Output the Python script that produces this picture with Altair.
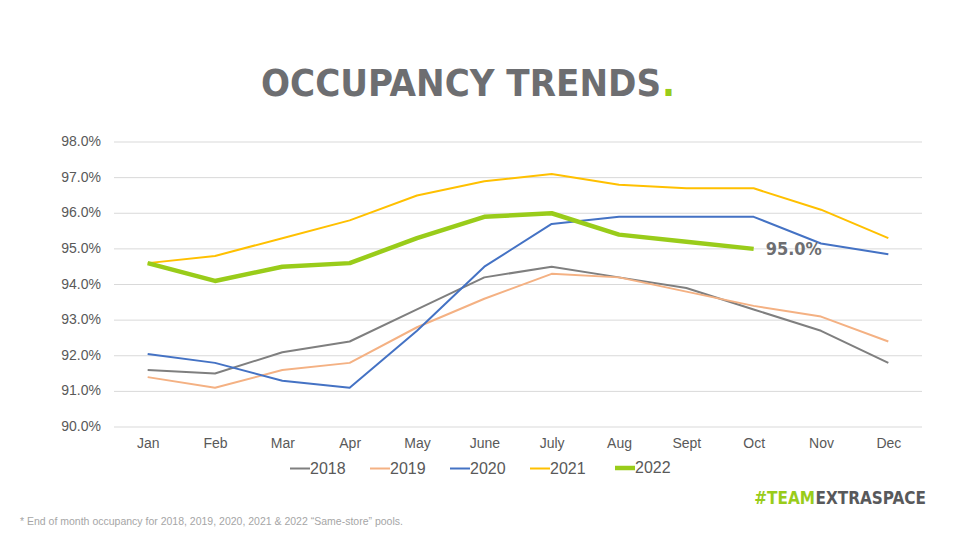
import altair as alt
import pandas as pd

months = ["Jan", "Feb", "Mar", "Apr", "May", "June", "July", "Aug", "Sept", "Oct", "Nov", "Dec"]
occ_2018 = [91.6, 91.5, 92.1, 92.4, 93.3, 94.2, 94.5, 94.2, 93.9, 93.3, 92.7, 91.8]
occ_2019 = [91.4, 91.1, 91.6, 91.8, 92.8, 93.6, 94.3, 94.2, 93.8, 93.4, 93.1, 92.4]
occ_2020 = [92.05, 91.8, 91.3, 91.1, 92.7, 94.5, 95.7, 95.9, 95.9, 95.9, 95.15, 94.85]
occ_2021 = [94.6, 94.8, 95.3, 95.8, 96.5, 96.9, 97.1, 96.8, 96.7, 96.7, 96.1, 95.3]
occ_2022 = [94.6, 94.1, 94.5, 94.6, 95.3, 95.9, 96.0, 95.4, 95.2, 95.0]
years = ["2018", "2019", "2020", "2021", "2022"]
colors = ["#7f7f7f", "#f4b183", "#4472c4", "#ffc000", "#99cc1a"]
y_ticks = [90, 91, 92, 93, 94, 95, 96, 97, 98]

rows = []
for yr, vals in zip(years, [occ_2018, occ_2019, occ_2020, occ_2021, occ_2022]):
    for m, v in zip(months, vals):
        rows.append({"year": yr, "month": m, "occ": v, "lbl": f"{v:.1f}%"})
df = pd.DataFrame(rows)
ticks_df = pd.DataFrame({"occ": y_ticks, "lbl": [f"{t:.1f}%" for t in y_ticks]})

GRAY = "#595959"
COND = "DejaVu Sans Condensed, Liberation Sans Narrow, sans-serif"

xscale = alt.Scale(type="point", domain=months, padding=0.5)
yscale = alt.Scale(domain=[90, 98], nice=False, zero=False)

x = alt.X("month:N", scale=xscale,
          axis=alt.Axis(title=None, grid=False, domain=False, ticks=False, labelAngle=0,
                        labelPadding=9, labelFontSize=14, labelColor=GRAY, labelFont="Liberation Sans"))
y = alt.Y("occ:Q", scale=yscale, axis=None)

grid = alt.Chart(ticks_df).mark_rule(color="#d9d9d9", strokeWidth=1).encode(
    y=alt.Y("occ:Q", scale=yscale, axis=None), x=alt.value(0), x2=alt.value(808))
ylabels = alt.Chart(ticks_df).mark_text(align="right", baseline="middle", font="Liberation Sans",
                                        fontSize=14, color=GRAY).encode(
    y=alt.Y("occ:Q", scale=yscale, axis=None), x=alt.value(-13), text="lbl:N")

color = alt.Color("year:N", scale=alt.Scale(domain=years, range=colors),
                  legend=alt.Legend(title=None,
                                    symbolStrokeWidth={"expr": "datum.value === '2022' ? 4.5 : 2"}))

base = alt.Chart(df).encode(x=x, y=y)
thin = base.mark_line(strokeJoin="round", strokeWidth=2).encode(color=color).transform_filter(
    "datum.year != '2022'")
thick = base.mark_line(strokeJoin="round", strokeWidth=4.5).encode(color=color).transform_filter(
    "datum.year == '2022'")

label = base.mark_text(align="left", baseline="middle", dx=12, dy=1, font=COND,
                       fontWeight="bold", fontSize=18, color="#6d6e71").encode(
    text="lbl:N").transform_filter("datum.year == '2022' && datum.month == 'Oct'")

anno = pd.DataFrame({"k": [0]})
title = alt.Chart(anno).mark_text(align="right", baseline="alphabetic", font=COND, fontWeight="bold",
                                  fontSize=38, color="#6d6e71").encode(
    x=alt.value(547), y=alt.value(-46), text=alt.value("OCCUPANCY TRENDS"))
period = alt.Chart(anno).mark_text(align="left", baseline="alphabetic", font=COND, fontWeight="bold",
                                   fontSize=38, color="#99cc1a").encode(
    x=alt.value(548), y=alt.value(-46), text=alt.value("."))
foot = alt.Chart(anno).mark_text(align="left", baseline="alphabetic", font="Liberation Sans",
                                  fontSize=10.5, color="#a6a6a6").encode(
    x=alt.value(-94), y=alt.value(383),
    text=alt.value("* End of month occupancy for 2018, 2019, 2020, 2021 & 2022 \u201cSame-store\u201d pools."))
logo1 = alt.Chart(anno).mark_text(align="right", baseline="alphabetic", font=COND, fontWeight="bold",
                                  fontSize=17, color="#99cc1a").encode(
    x=alt.value(701), y=alt.value(362), text=alt.value("#TEAM"))
logo2 = alt.Chart(anno).mark_text(align="right", baseline="alphabetic", font=COND, fontWeight="bold",
                                  fontSize=17, color="#58595b").encode(
    x=alt.value(812), y=alt.value(362), text=alt.value("EXTRASPACE"))

chart = alt.layer(grid, ylabels, thin, thick, label, title, period, foot, logo1, logo2).properties(
    width=808, height=285,
    autosize=alt.AutoSizeParams(type="none"),
    padding={"left": 106, "top": 134, "right": 30, "bottom": 105},
).configure_view(stroke=None).configure_legend(
    orient="none", legendX=178, legendY=318, direction="horizontal",
    symbolType="stroke", symbolSize=400, labelFontSize=16, labelColor=GRAY,
    labelFont="Liberation Sans", labelOffset=2, columnPadding=20, symbolOpacity=1,
)

chart.save("out.html", embed_options={"renderer": "svg", "actions": False})
